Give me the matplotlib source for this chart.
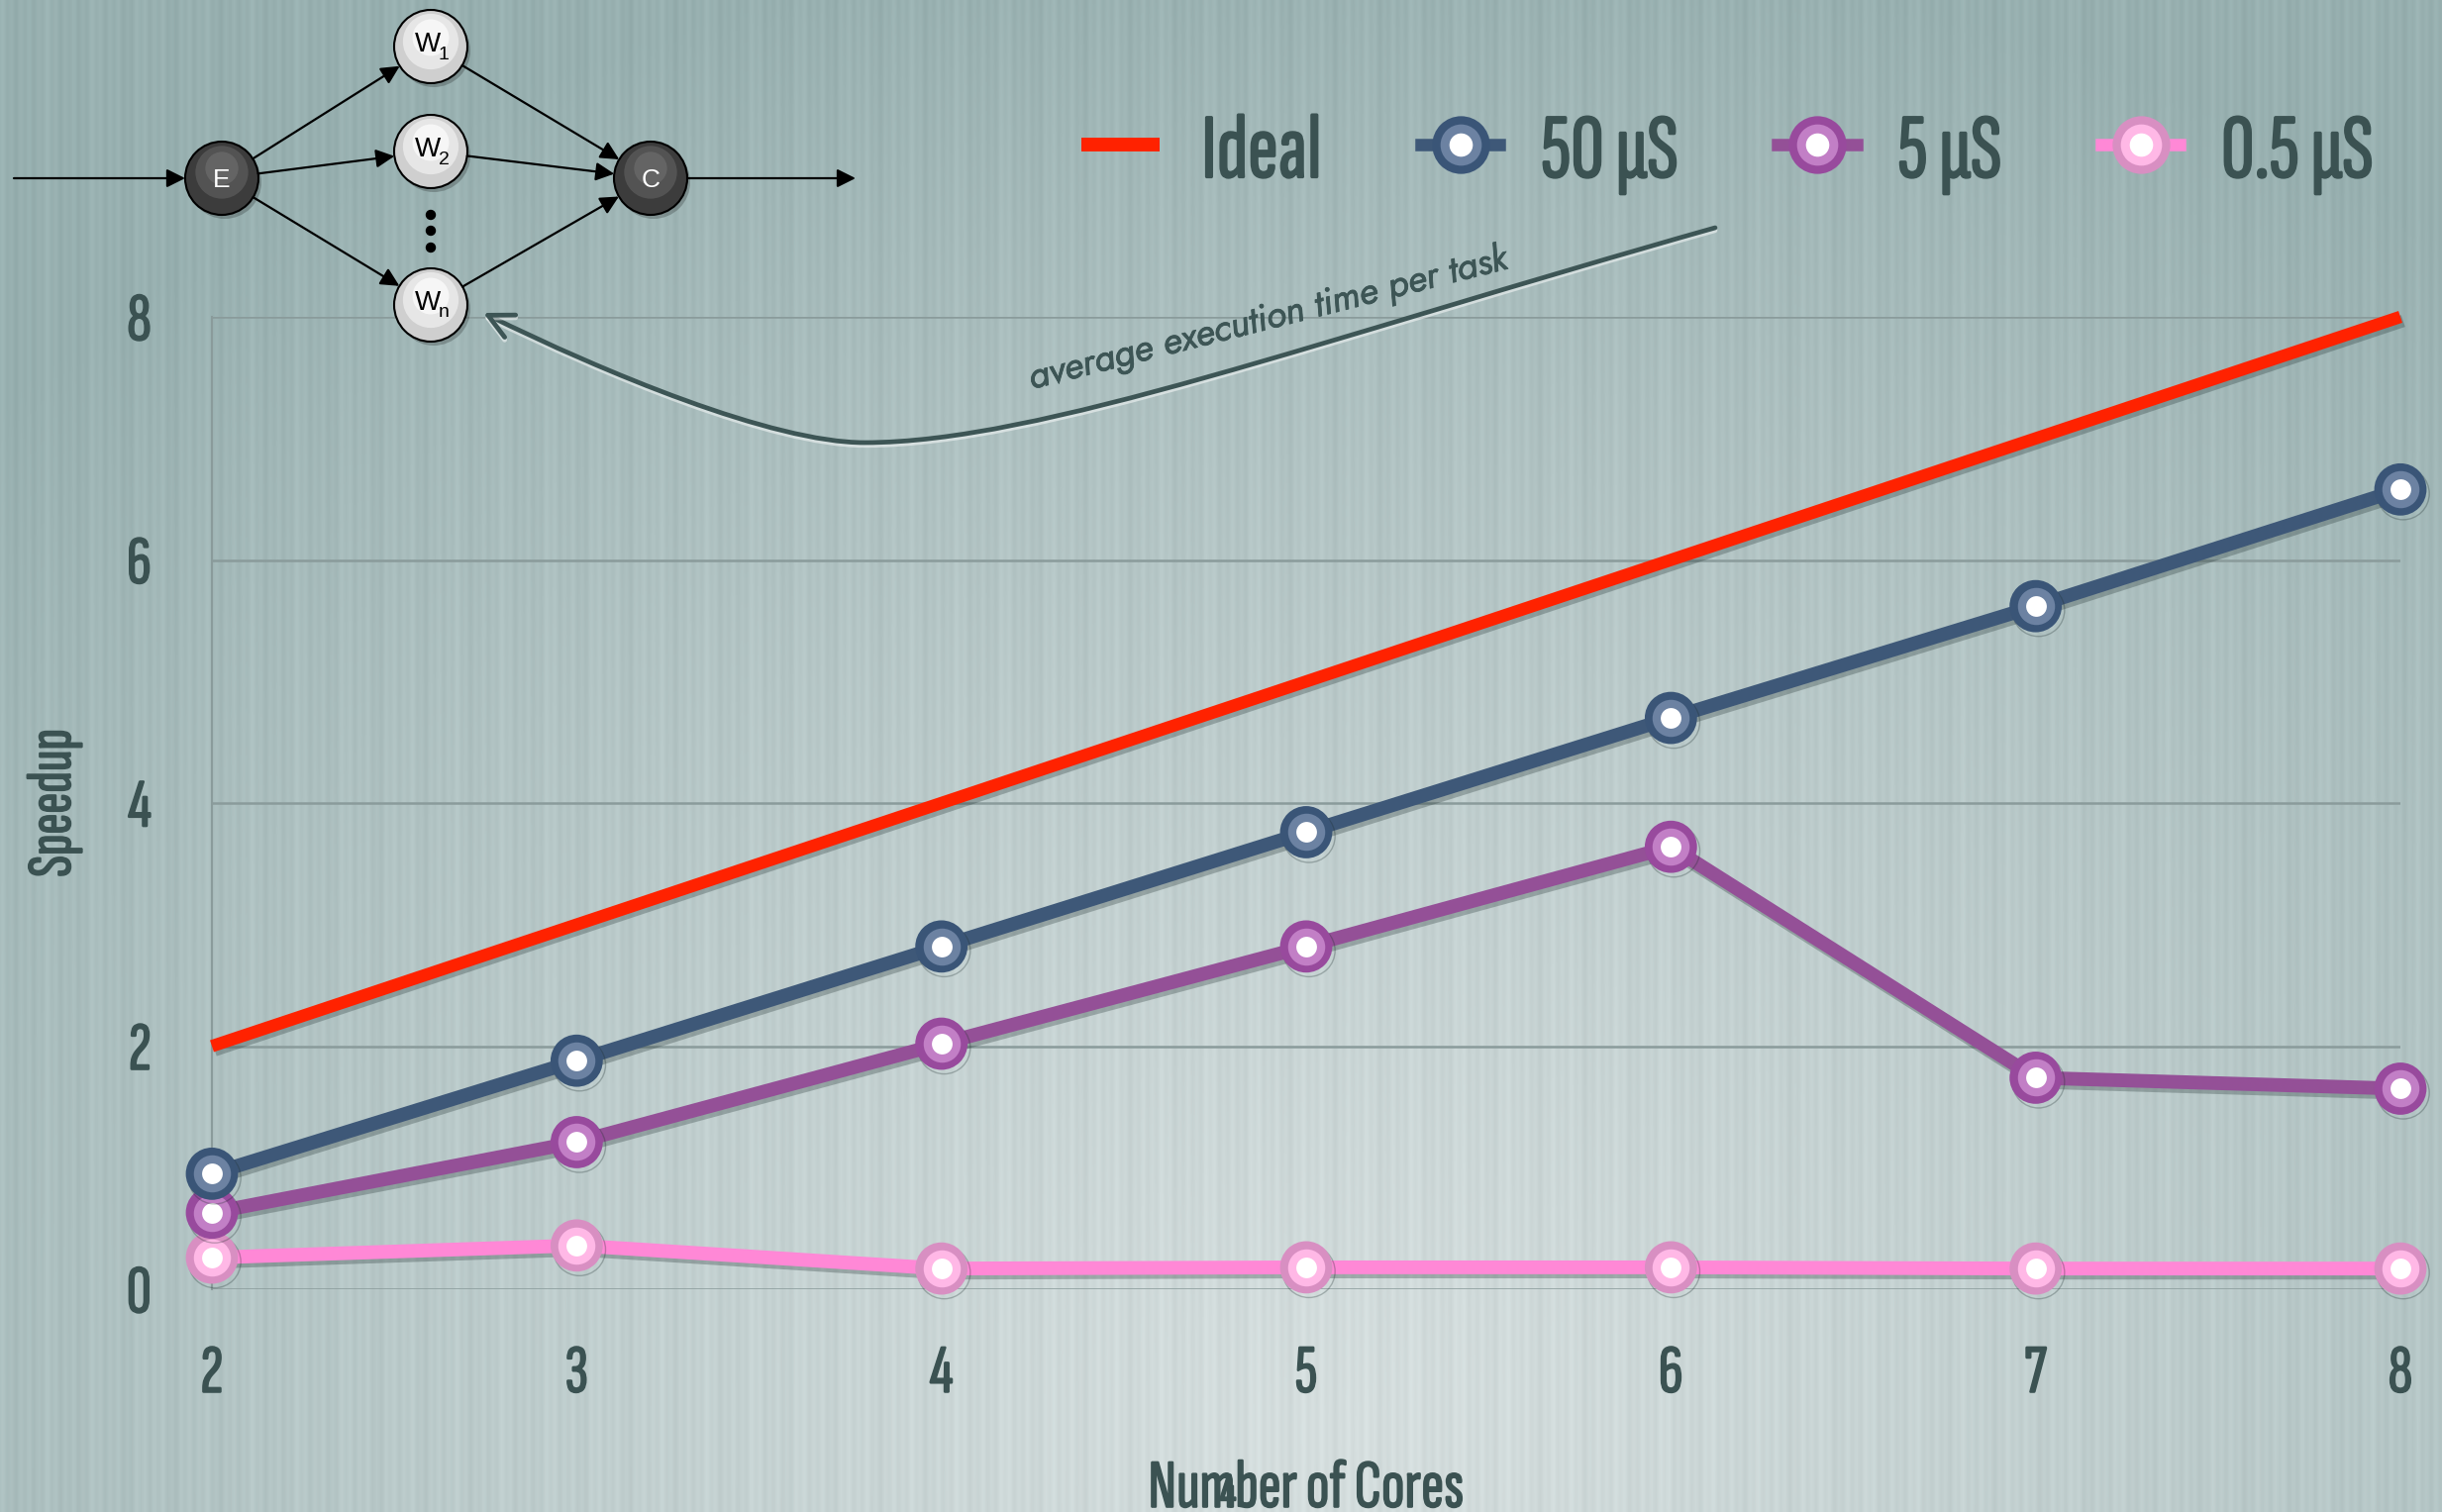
import matplotlib
matplotlib.use('Agg')
import numpy as np
import matplotlib.pyplot as plt
from matplotlib.lines import Line2D
from matplotlib.legend_handler import HandlerTuple
from matplotlib.patches import Circle, FancyArrowPatch
from matplotlib.path import Path
import matplotlib.patheffects as pe

# ---------------- data ----------------
cores = [2, 3, 4, 5, 6, 7, 8]
ideal = [2, 3, 4, 5, 6, 7, 8]
speedup_50us = [0.95, 1.88, 2.82, 3.76, 4.70, 5.62, 6.58]
speedup_5us = [0.63, 1.21, 2.02, 2.82, 3.64, 1.74, 1.65]
speedup_05us = [0.26, 0.36, 0.17, 0.18, 0.18, 0.17, 0.17]
series_labels = ['Ideal', '50 µS', '5 µS', '0.5 µS']
y_ticks = [0, 2, 4, 6, 8]
x_label = 'Number of Cores'
y_label = 'Speedup'
note_text = 'average execution time per task'

COND = ['Sofia Sans Extra Condensed', 'DejaVu Sans']
TXT = '#3b5252'
BOLDEN = [pe.withStroke(linewidth=1.2, foreground=TXT)]

W, H = 2466, 1527
fig = plt.figure(figsize=(W / 100, H / 100), dpi=100)

# ---------------- background ----------------
bg = fig.add_axes([0, 0, 1, 1], zorder=-10)
bg.set_axis_off()
nx, ny = W, 300
xs = np.linspace(0, 1, nx)[None, :]
ys = np.linspace(0, 1, ny)[:, None]
d = np.sqrt(((xs - 0.55) / 0.75) ** 2 + ((ys - 0.95) / 1.0) ** 2)
t = np.clip(d, 0, 1) ** 1.2
light = np.array([0.835, 0.870, 0.870])
dark = np.array([0.595, 0.690, 0.690])
img = light[None, None, :] * (1 - t[..., None]) + dark[None, None, :] * t[..., None]
px = np.arange(nx)[None, :]
stripes = (0.012 * np.sin(2 * np.pi * px / 9.0) + 0.008 * np.sin(2 * np.pi * px / 23.0 + 1.0)
           + 0.006 * np.sin(2 * np.pi * px / 51.0 + 2.0))
img = np.clip(img + stripes[..., None], 0, 1)
bg.imshow(img, extent=[0, 1, 0, 1], aspect='auto', interpolation='bilinear', origin='upper')
bg.set_xlim(0, 1)
bg.set_ylim(0, 1)

# ---------------- main chart ----------------
ax = fig.add_axes([214 / W, 1 - 1302 / H, 2210 / W, 982 / H])
ax.set_facecolor('none')
ax.set_xlim(2, 8)
ax.set_ylim(0, 8)
for s in ['top', 'right', 'bottom']:
    ax.spines[s].set_visible(False)
ax.spines['left'].set_color('#8a9b9b')
ax.spines['left'].set_linewidth(1.5)
ax.set_yticks(y_ticks)
ax.set_xticks(cores)
ax.grid(axis='y', color='#8a9b9b', lw=1.8)
ax.set_axisbelow(True)
ax.tick_params(length=0)
ax.tick_params(axis='x', pad=41, labelsize=50, labelcolor=TXT)
ax.tick_params(axis='y', pad=44, labelsize=50, labelcolor=TXT)
for lab in ax.get_xticklabels() + ax.get_yticklabels():
    lab.set_family(COND)
    lab.set_path_effects(BOLDEN)

shadow = [pe.SimpleLineShadow(offset=(2, -3), shadow_color='#1a2a2a', alpha=0.28), pe.Normal()]

ax.plot(cores, ideal, color='#ff2200', lw=9, solid_capstyle='butt', clip_on=False,
        zorder=3, path_effects=shadow)

styles = [
    (speedup_05us, '#ff88d6', '#d88fc2', '#ffb8e6'),
    (speedup_5us, '#945097', '#984a9d', '#c27fc6'),
    (speedup_50us, '#3e5878', '#3a5577', '#6c82a2'),
]
for k, (vals, lc, outer, inner) in enumerate(styles):
    z = 4 + k
    ax.plot(cores, vals, color=lc, lw=10, marker='o', ms=38, mfc=outer, mec='none',
            clip_on=False, zorder=z, path_effects=shadow, solid_joinstyle='round')
    ax.plot(cores, vals, ls='none', marker='o', ms=27, mfc=inner, mec='none', clip_on=False, zorder=z)
    ax.plot(cores, vals, ls='none', marker='o', ms=15, mfc='white', mec='none', clip_on=False, zorder=z)

ax.set_xlabel(x_label, family=COND, fontsize=50, color=TXT, va='baseline', path_effects=BOLDEN)
ax.xaxis.set_label_coords(0.5, -(1522 - 1302) / 982)
ax.set_ylabel(y_label, family=COND, fontsize=46, color=TXT, va='center', path_effects=BOLDEN)
ax.yaxis.set_label_coords(-(214 - 55) / 2210, 0.5)

# ---------------- legend ----------------
def ring_handle(lc, outer, inner):
    return (Line2D([], [], color=lc, lw=9, marker='o', ms=42, mfc=outer, mec='none'),
            Line2D([], [], ls='none', marker='o', ms=30, mfc=inner, mec='none'),
            Line2D([], [], ls='none', marker='o', ms=17, mfc='white', mec='none'))

handles = [Line2D([], [], color='#ff2200', lw=10, solid_capstyle='butt'),
           ring_handle('#3e5878', '#3a5577', '#6c82a2'),
           ring_handle('#945097', '#984a9d', '#c27fc6'),
           ring_handle('#ff88d6', '#d88fc2', '#ffb8e6')]
leg = fig.legend(handles, series_labels, ncol=4, loc='center right',
                 bbox_to_anchor=(2397 / W, 1 - 155 / H), frameon=False,
                 prop={'family': COND, 'size': 67}, labelcolor=TXT,
                 handlelength=0.85, handletextpad=0.45, columnspacing=1.08,
                 borderpad=0, borderaxespad=0,
                 handler_map={tuple: HandlerTuple(ndivide=1, pad=0)})
for tx in leg.get_texts():
    tx.set_path_effects([pe.withStroke(linewidth=1.5, foreground=TXT)])

# ---------------- overlay: farm diagram + annotation ----------------
ov = fig.add_axes([0, 0, 1, 1], zorder=5)
ov.set_axis_off()
ov.set_xlim(0, W)
ov.set_ylim(H, 0)
ov.patch.set_alpha(0)

R = 37
nodes = {'E': (224, 180), 'C': (657, 180), 'W1': (435, 47), 'W2': (435, 153), 'Wn': (435, 308)}

def node(name, xy, darkn):
    x, y = xy
    ov.add_patch(Circle((x + 3, y + 4), R, color='#000000', alpha=0.22, lw=0))
    if darkn:
        ov.add_patch(Circle((x, y), R, fc='#3c3c3c', ec='black', lw=1.5))
        ov.add_patch(Circle((x, y - 6), R * 0.72, fc='#5a5a5a', ec='none', alpha=0.8))
        ov.add_patch(Circle((x, y - 10), R * 0.45, fc='#707070', ec='none', alpha=0.6))
    else:
        ov.add_patch(Circle((x, y), R, fc='#cfcfcf', ec='black', lw=1.5))
        ov.add_patch(Circle((x, y - 5), R * 0.76, fc='#e6e6e6', ec='none'))
        ov.add_patch(Circle((x, y - 9), R * 0.5, fc='#f6f6f6', ec='none'))

for nm, xy in nodes.items():
    node(nm, xy, nm in ('E', 'C'))

NF = ['Liberation Sans', 'DejaVu Sans']
ov.text(224, 182, 'E', color='white', fontsize=19, ha='center', va='center', family=NF)
ov.text(657, 182, 'C', color='white', fontsize=19, ha='center', va='center', family=NF)
for nm, sub in (('W1', '1'), ('W2', '2'), ('Wn', 'n')):
    x, y = nodes[nm]
    ov.text(x - 3, y - 2, 'W', color='black', fontsize=20, ha='center', va='center', family=NF)
    ov.text(x + 13, y + 8, sub, color='black', fontsize=14, ha='center', va='center', family=NF)

for yy in (217, 233, 250):
    ov.add_patch(Circle((435, yy), 4.5, color='black'))

def arrow(p0, p1):
    ov.annotate('', xy=p1, xytext=p0,
                arrowprops=dict(arrowstyle='-|>', mutation_scale=28, lw=1.6, color='black',
                                shrinkA=0, shrinkB=0))

def edge(a, b, ra=R, rb=R):
    (x0, y0), (x1, y1) = nodes[a], nodes[b]
    v = np.array([x1 - x0, y1 - y0], float)
    v /= np.hypot(*v)
    arrow((x0 + v[0] * ra, y0 + v[1] * ra), (x1 - v[0] * rb, y1 - v[1] * rb))

arrow((14, 180), (187, 180))
arrow((694, 180), (864, 180))
for w in ('W1', 'W2', 'Wn'):
    edge('E', w, R, R)
    edge(w, 'C', R, R)

verts = [(1732, 230), (1332, 343), (1050, 447), (873, 447),
         (780, 447), (610, 376), (488, 316)]
codes = [Path.MOVETO] + [Path.CURVE4] * 6
curve = FancyArrowPatch(path=Path(verts, codes), arrowstyle='->', mutation_scale=45,
                        lw=3.4, color='#3d5555', transform=ov.transData,
                        path_effects=[pe.SimpleLineShadow(offset=(0, -2), shadow_color='white', alpha=0.5),
                                      pe.Normal()])
ov.add_patch(curve)
ov.text(1283, 332, note_text, family=['Jost', 'DejaVu Sans'], style='italic', weight='medium',
        fontsize=27, color='#3d5555', rotation=14.2, rotation_mode='anchor', ha='center', va='baseline',
        path_effects=[pe.withStroke(linewidth=0.6, foreground='#3d5555')])

# stray tick label overlapping the axis title, as in the original
fig.text(1240 / W, 1 - 1522 / H, '4', family=COND, fontsize=36, color=TXT,
         ha='center', va='baseline', path_effects=BOLDEN)

fig.savefig('out.png', dpi=100)
